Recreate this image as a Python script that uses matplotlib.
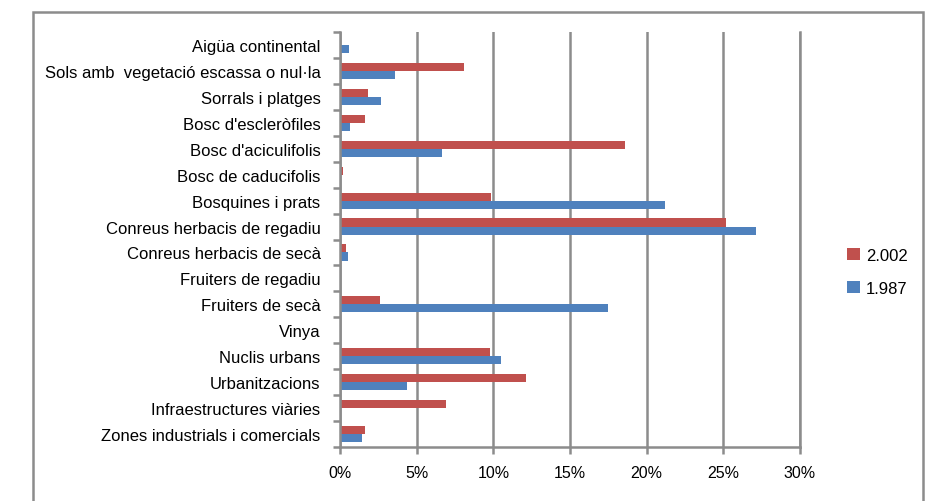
import numpy as np
import matplotlib
matplotlib.use("Agg")
from matplotlib import pyplot as plt
from matplotlib.patches import Rectangle
from matplotlib.ticker import FuncFormatter

plt.rcParams["font.family"] = ["Liberation Sans Narrow", "Liberation Sans", "DejaVu Sans"]

# categories, top to bottom
categories = [
    "Aigüa continental",
    "Sols amb  vegetació escassa o nul·la",
    "Sorrals i platges",
    "Bosc d'escleròfiles",
    "Bosc d'aciculifolis",
    "Bosc de caducifolis",
    "Bosquines i prats",
    "Conreus herbacis de regadiu",
    "Conreus herbacis de secà",
    "Fruiters de regadiu",
    "Fruiters de secà",
    "Vinya",
    "Nuclis urbans",
    "Urbanitzacions",
    "Infraestructures viàries",
    "Zones industrials i comercials",
]
# percent of surface
vals_2002 = [0.0, 8.1, 1.8, 1.6, 18.6, 0.2, 9.85, 25.2, 0.4, 0.0, 2.6, 0.0, 9.8, 12.1, 6.9, 1.6]
vals_1987 = [0.6, 3.6, 2.7, 0.65, 6.65, 0.0, 21.2, 27.1, 0.5, 0.0, 17.5, 0.0, 10.5, 4.4, 0.05, 1.45]
xticks = [0, 5, 10, 15, 20, 25, 30]

red = "#C0504D"
blue = "#4F81BD"
grey = "#8C8C8C"

fig = plt.figure(figsize=(9.31, 5.02), dpi=100)
ax = fig.add_axes([340 / 931, 1 - 448 / 502, 460 / 931, 415 / 502])

y = np.arange(len(categories))
h = 0.31
ax.barh(y - h / 2, vals_2002, height=h, color=red, label="2.002")
ax.barh(y + h / 2, vals_1987, height=h, color=blue, label="1.987")

ax.set_xlim(0, 30)
ax.set_ylim(len(categories) - 0.5, -0.5)
ax.set_xticks(xticks)
ax.xaxis.set_major_formatter(FuncFormatter(lambda v, p: f"{v:.0f}%"))
ax.set_yticks(y)
ax.set_yticklabels(categories)
ax.set_yticks(np.arange(len(categories) + 1) - 0.5, minor=True)
ax.tick_params(axis="y", which="major", length=0, pad=14, labelsize=12)
ax.tick_params(axis="y", which="minor", length=5, width=1.8, color=grey)
ax.tick_params(axis="x", length=5, width=1.8, color=grey, pad=8, labelsize=11.5)

ax.grid(axis="x", color=grey, linewidth=1.8)
# last gridline sits on the axes edge, draw it unclipped
ax.axvline(xticks[-1], color=grey, linewidth=1.8, clip_on=False, zorder=0.5)
ax.set_axisbelow(True)
for s in ["top", "right"]:
    ax.spines[s].set_visible(False)
for s in ["left", "bottom"]:
    ax.spines[s].set_color(grey)
    ax.spines[s].set_linewidth(1.8)

handles, labels = ax.get_legend_handles_labels()
fig.legend(handles, labels, loc="center left", bbox_to_anchor=(832 / 931, 1 - 273 / 502),
           frameon=False, fontsize=12, handlelength=0.75, handleheight=0.75,
           handletextpad=0.4, labelspacing=1.1)

# outer chart frame (bottom edge is cut off in the original)
fig.patches.append(Rectangle((33 / 931, -0.1), 890 / 931, 1.1 - 13 / 502,
                             transform=fig.transFigure, fill=False,
                             edgecolor=grey, linewidth=1.8))

fig.savefig("out.png", dpi=100)
